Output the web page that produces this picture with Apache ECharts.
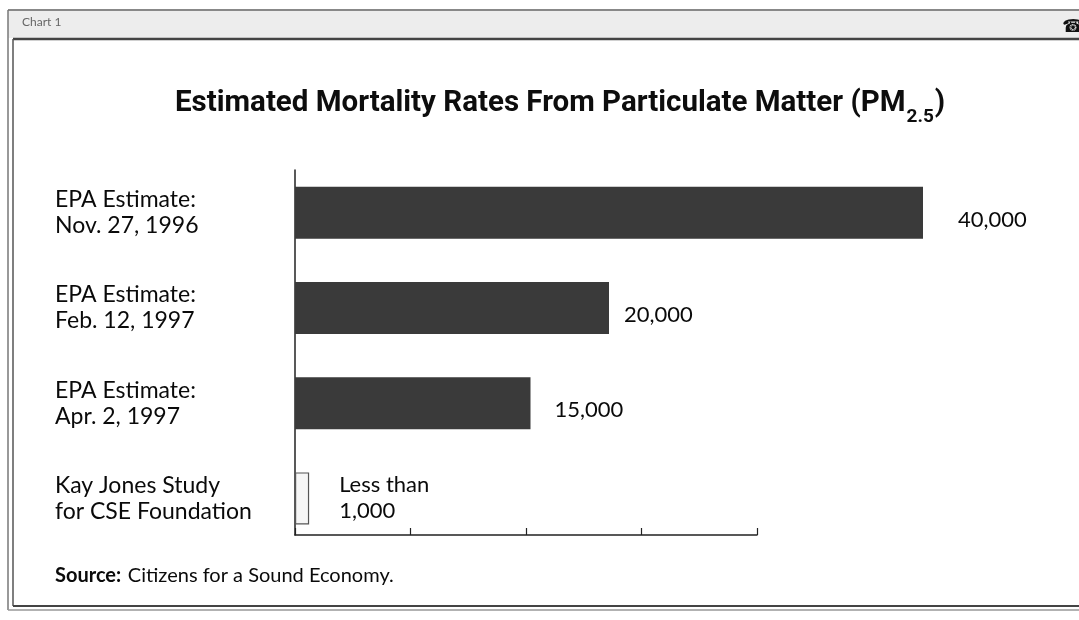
<!DOCTYPE html>
<html>
<head>
<meta charset="utf-8">
<script src="https://cdn.jsdelivr.net/npm/echarts@6/dist/echarts.min.js"></script>
<style>
html,body{margin:0;padding:0;background:#fff;}
#chart{width:1079px;height:620px;}
</style>
</head>
<body>
<div id="chart"></div>
<script>
// ---- data ----
var categories = [
  'EPA Estimate:\nNov. 27, 1996',
  'EPA Estimate:\nFeb. 12, 1997',
  'EPA Estimate:\nApr. 2, 1997',
  'Kay Jones Study\nfor CSE Foundation'
];
var deaths = [40000, 20000, 15000, 900];
var valueLabels = ['40,000', '20,000', '15,000', 'Less than\n1,000'];
var titleText = 'Estimated Mortality Rates From Particulate Matter (PM';
var titleSub = '2.5';
var sourceLabel = 'Source:';
var sourceText = 'Citizens for a Sound Economy.';
var chartTag = 'Chart 1';

// ---- presentation ----
var FONT = 'Lato, "Open Sans", sans-serif';
var labelDistance = [35, 15, 24, 30];
var labelShift = [7, 7, 7, 0];

var chart = echarts.init(document.getElementById('chart'), null, {renderer: 'canvas'});

var barData = deaths.map(function (v, i) {
  var outline = i === deaths.length - 1;
  return {
    value: v,
    itemStyle: outline
      ? {color: '#f6f6f6', borderColor: '#555', borderWidth: 1.2}
      : {color: '#3a3a3a'},
    label: {distance: labelDistance[i], offset: [0, labelShift[i]]}
  };
});

var option = {
  backgroundColor: '#ffffff',
  animation: false,
  title: {
    text: '{a|' + titleText + '}{s|' + titleSub + '}{a|)}',
    left: 170,
    top: 78,
    textStyle: {
      rich: {
        a: {fontFamily: 'Roboto, sans-serif', fontWeight: 'bold', fontSize: 29.5, color: '#0d0d0d', lineHeight: 36, verticalAlign: 'bottom'},
        s: {fontFamily: 'Roboto, sans-serif', fontWeight: 'bold', fontSize: 19, color: '#0d0d0d', lineHeight: 36, verticalAlign: 'bottom', padding: [0, 1, -8, 1]}
      }
    }
  },
  grid: [
    {left: 295, width: 628, top: 165, height: 381},
    {left: 295, width: 462, top: 170, height: 365}
  ],
  xAxis: [
    {gridIndex: 0, type: 'value', min: 0, max: 40000, show: false},
    {gridIndex: 1, type: 'value', min: 0, max: 30000, interval: 7500,
     axisLine: {show: true, lineStyle: {color: '#222', width: 1.5}},
     axisTick: {show: true, inside: true, length: 7, lineStyle: {color: '#222', width: 1.2}},
     axisLabel: {show: false}, splitLine: {show: false}}
  ],
  yAxis: [
    {gridIndex: 0, type: 'category', inverse: true, data: categories,
     axisLine: {show: false}, axisTick: {show: false},
     axisLabel: {align: 'left', margin: 240, fontFamily: FONT, fontSize: 23, lineHeight: 26, color: '#0a0a0a'}},
    {gridIndex: 1, type: 'value', min: 0, max: 1,
     axisLine: {show: true, lineStyle: {color: '#222', width: 1.5}},
     axisTick: {show: false}, axisLabel: {show: false}, splitLine: {show: false}}
  ],
  series: [{
    type: 'bar',
    xAxisIndex: 0, yAxisIndex: 0,
    data: barData,
    barWidth: 52,
    clip: false,
    label: {
      show: true,
      position: 'right',
      fontFamily: FONT, fontSize: 22, lineHeight: 26, color: '#0a0a0a',
      formatter: function (p) { return valueLabels[p.dataIndex]; }
    }
  }],
  graphic: [
    {type: 'rect', shape: {x: 8, y: 10, width: 1071, height: 28}, style: {fill: '#ededed'}, silent: true},
    {type: 'line', shape: {x1: 8, y1: 10, x2: 1079, y2: 10}, style: {stroke: '#888', lineWidth: 2}},
    {type: 'line', shape: {x1: 13, y1: 39, x2: 1079, y2: 39}, style: {stroke: '#444', lineWidth: 2.5}},
    {type: 'line', shape: {x1: 8, y1: 10, x2: 8, y2: 610}, style: {stroke: '#777', lineWidth: 1.5}},
    {type: 'line', shape: {x1: 13, y1: 39, x2: 13, y2: 606}, style: {stroke: '#555', lineWidth: 1.5}},
    {type: 'line', shape: {x1: 13, y1: 606, x2: 1079, y2: 606}, style: {stroke: '#444', lineWidth: 2}},
    {type: 'line', shape: {x1: 8, y1: 610, x2: 1079, y2: 610}, style: {stroke: '#999', lineWidth: 1.5}},
    {type: 'text', left: 22, top: 16, style: {text: chartTag, font: '12px ' + FONT, fill: '#666'}},
    {type: 'text', left: 1062, top: 18, style: {text: '\u260E', font: '18px "DejaVu Sans"', fill: '#111'}},
    {type: 'text', left: 55, top: 566, style: {
      text: '{b|' + sourceLabel + '}  {n|' + sourceText + '}',
      rich: {
        b: {fontFamily: FONT, fontWeight: 'bold', fontSize: 20, fill: '#0a0a0a'},
        n: {fontFamily: FONT, fontSize: 20, fill: '#0a0a0a'}
      }
    }}
  ]
};
chart.setOption(option);
</script>
</body>
</html>
